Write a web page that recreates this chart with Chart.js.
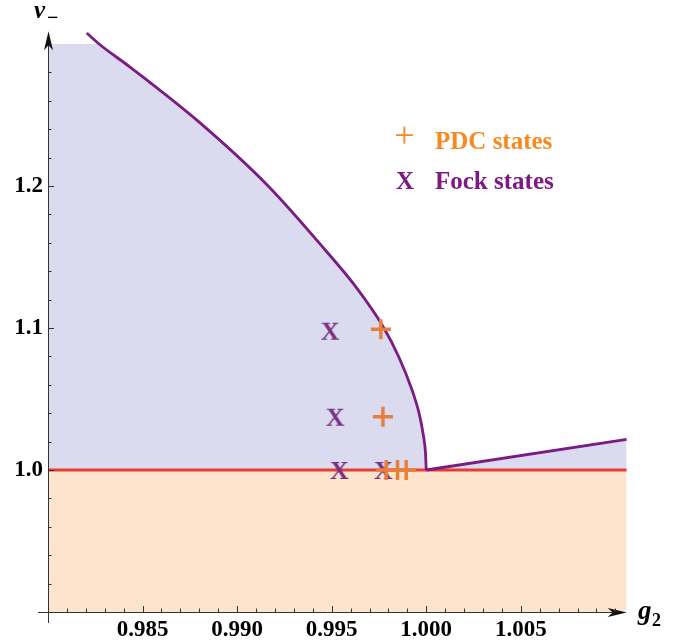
<!DOCTYPE html>
<html lang="en">
<head>
<meta charset="UTF-8" />
<title>nu- versus g2</title>
<script src="https://cdn.jsdelivr.net/npm/chart.js"></script>
<style>
  html, body { margin: 0; padding: 0; background: #fff; }
  #wrap { width: 682px; height: 644px; position: relative; }
</style>
</head>
<body>
<div id="wrap"><canvas id="graph"></canvas></div>
<script>
// plot range
const xMin = 0.98, xMax = 1.0106;
const yMin = 0.9, yMax = 1.309, yFillTop = 1.3;

// upper branch of the boundary, down to the cusp at 1.000
const branchX = [0.98205, 0.98270, 0.98434, 0.98804, 0.99164, 0.99466, 0.99620, 0.99773, 0.99855, 0.99925, 0.99962, 0.99984, 0.99996, 1.0];
const branchY = [1.3077, 1.3, 1.2837, 1.2444, 1.2, 1.1549, 1.1303, 1.1007, 1.0796, 1.0563, 1.0400, 1.0250, 1.0120, 1.0];
// straight piece to the right of the cusp
const rayX = [1.0, 1.0106];
const rayY = [1.0, 1.0216];

// markers
const pdcX = [0.99760, 0.99771, 0.99788, 0.99848, 0.99894];
const pdcY = [1.0991, 1.0375, 1.0, 1.0, 1.0];
const fockX = [0.99492, 0.99519, 0.99541, 0.99774];
const fockY = [1.0981, 1.0375, 1.0, 1.0];

// ticks
const xTickLabels = ["0.985", "0.990", "0.995", "1.000", "1.005"];
const xMinorTicks = [0.981, 0.982, 0.983, 0.984, 0.986, 0.987, 0.988, 0.989, 0.991, 0.992, 0.993, 0.994,
                     0.996, 0.997, 0.998, 0.999, 1.001, 1.002, 1.003, 1.004, 1.006, 1.007, 1.008, 1.009, 1.010];
const yTickLabels = ["1.0", "1.1", "1.2"];
const yMinorTicks = [0.92, 0.94, 0.96, 0.98, 1.02, 1.04, 1.06, 1.08, 1.12, 1.14, 1.16, 1.18,
                     1.22, 1.24, 1.26, 1.28];

const PURPLE = "rgb(123,27,132)";
const ORANGE = "rgb(232,128,60)";
const LAVENDER = "rgb(218,219,238)";
const PEACH = "rgb(253,228,205)";
const SERIF = "'Liberation Serif', 'Times New Roman', serif";

const pts = (xs, ys) => xs.map((x, i) => ({ x, y: ys[i] }));

// lavender region: flat top at 1.3 until the curve comes in, then under the curve
const branchPts = pts(branchX, branchY);
const fillBranch = branchPts.filter(p => p.y <= yFillTop);
// the corner piece overlaps the branch fill a little so no seam shows
const fillTop = [{ x: xMin, y: yFillTop }, fillBranch[0], fillBranch[1]];

// serif "X" used as the Fock marker
function letterX(size, color) {
  const c = document.createElement("canvas");
  c.width = 28; c.height = 28;
  const g = c.getContext("2d");
  g.font = "bold " + size + "px " + SERIF;
  g.fillStyle = color;
  g.textAlign = "center";
  g.textBaseline = "alphabetic";
  g.fillText("X", 14, 14 + size * 0.33);
  return c;
}
const fockMark = letterX(26, "rgb(122,48,132)");

// Mathematica-like frame: crossing axes, arrows, inward ticks, axis names, legend
const framePlugin = {
  id: "frame",
  afterDatasetsDraw(chart) {
    const { ctx, chartArea, scales } = chart;
    const xs = scales.x, ys = scales.y;
    const left = xs.getPixelForValue(xMin), bottom = ys.getPixelForValue(yMin);
    ctx.save();
    ctx.strokeStyle = "#333";
    ctx.fillStyle = "#111";
    ctx.lineWidth = 1;

    ctx.beginPath();
    ctx.moveTo(left - 10, bottom + 0.5);
    ctx.lineTo(chartArea.right - 10, bottom + 0.5);
    ctx.moveTo(left + 0.5, bottom + 11);
    ctx.lineTo(left + 0.5, chartArea.top + 10);
    ctx.stroke();

    // arrow heads
    const arrow = (tx, ty, dx, dy) => {
      const px = -dy, py = dx;
      ctx.beginPath();
      ctx.moveTo(tx, ty);
      ctx.lineTo(tx - dx * 19 + px * 4.5, ty - dy * 19 + py * 4.5);
      ctx.lineTo(tx - dx * 14, ty - dy * 14);
      ctx.lineTo(tx - dx * 19 - px * 4.5, ty - dy * 19 - py * 4.5);
      ctx.closePath();
      ctx.fill();
    };
    arrow(chartArea.right, bottom + 0.5, 1, 0);
    arrow(left + 0.5, chartArea.top, 0, -1);

    // ticks point into the plot
    ctx.beginPath();
    xMinorTicks.forEach(v => {
      const p = Math.round(xs.getPixelForValue(v)) + 0.5;
      ctx.moveTo(p, bottom); ctx.lineTo(p, bottom - 3.5);
    });
    xTickLabels.forEach(t => {
      const p = Math.round(xs.getPixelForValue(parseFloat(t))) + 0.5;
      ctx.moveTo(p, bottom); ctx.lineTo(p, bottom - 6);
    });
    yMinorTicks.forEach(v => {
      const p = Math.round(ys.getPixelForValue(v)) + 0.5;
      ctx.moveTo(left, p); ctx.lineTo(left + 3.5, p);
    });
    yTickLabels.forEach(t => {
      const p = Math.round(ys.getPixelForValue(parseFloat(t))) + 0.5;
      ctx.moveTo(left, p); ctx.lineTo(left + 6, p);
    });
    ctx.stroke();

    // axis names
    ctx.fillStyle = "#000";
    ctx.textAlign = "left";
    ctx.textBaseline = "alphabetic";
    ctx.font = "bold italic 25px " + SERIF;
    ctx.fillText("\u03bd", 34, 18);
    ctx.font = "bold 20px " + SERIF;
    ctx.fillText("\u2212", 47, 24);
    ctx.font = "bold italic 27px " + SERIF;
    ctx.fillText("g", 638, 619);
    ctx.font = "bold 18px " + SERIF;
    ctx.fillText("2", 652, 626);

    // legend
    ctx.font = "36px " + SERIF;
    ctx.textAlign = "center";
    ctx.fillStyle = "rgb(247,137,31)";
    ctx.fillText("+", 404.5, 147);
    ctx.font = "bold 25px " + SERIF;
    ctx.textAlign = "left";
    ctx.fillText("PDC states", 435, 149);
    ctx.fillStyle = "rgb(125,24,133)";
    ctx.textAlign = "center";
    ctx.fillText("X", 405, 189);
    ctx.textAlign = "left";
    ctx.fillText("Fock states", 435, 189);
    ctx.restore();
  }
};

const tickFont = { family: SERIF, weight: "bold", size: 23 };
const areaStyle = { borderWidth: 0, borderColor: "rgba(0,0,0,0)", backgroundColor: LAVENDER, pointRadius: 0, fill: { value: 1 }, order: 4 };

new Chart(document.getElementById("graph"), {
  type: "scatter",
  data: {
    datasets: [
      {
        label: "PDC states",
        data: pts(pdcX, pdcY),
        pointStyle: "cross",
        pointRadius: 10,
        pointBorderWidth: 3.5,
        borderColor: ORANGE,
        backgroundColor: ORANGE,
        order: 0
      },
      {
        label: "Fock states",
        data: pts(fockX, fockY),
        pointStyle: fockMark,
        pointRadius: 13,
        order: 1
      },
      {
        label: "boundary",
        type: "line",
        data: branchPts,
        borderColor: PURPLE,
        borderWidth: 2.8,
        pointRadius: 0,
        cubicInterpolationMode: "monotone",
        fill: false,
        order: 2
      },
      {
        label: "boundary ray",
        type: "line",
        data: pts(rayX, rayY),
        borderColor: PURPLE,
        borderWidth: 2.8,
        pointRadius: 0,
        fill: false,
        order: 2
      },
      {
        label: "nu = 1",
        type: "line",
        data: pts([xMin, xMax], [1, 1]),
        borderColor: "rgb(228,62,50)",
        borderWidth: 3,
        pointRadius: 0,
        fill: false,
        order: 3
      },
      Object.assign({ label: "upper region top", type: "line", data: fillTop }, areaStyle),
      Object.assign({ label: "upper region", type: "line", data: fillBranch, cubicInterpolationMode: "monotone" }, areaStyle),
      Object.assign({ label: "upper region right", type: "line", data: pts(rayX, rayY) }, areaStyle),
      {
        label: "lower region",
        type: "line",
        data: pts([xMin, xMax], [1, 1]),
        borderWidth: 0,
        borderColor: "rgba(0,0,0,0)",
        backgroundColor: PEACH,
        pointRadius: 0,
        fill: { value: yMin },
        order: 5
      }
    ]
  },
  options: {
    responsive: true,
    maintainAspectRatio: false,
    animation: false,
    devicePixelRatio: 1,
    layout: { padding: { left: 0, right: 55.3, top: 31.2, bottom: 0 } },
    plugins: { legend: { display: false }, tooltip: { enabled: false } },
    scales: {
      x: {
        type: "linear",
        min: xMin,
        max: xMax,
        afterBuildTicks: s => { s.ticks = xTickLabels.map(t => ({ value: parseFloat(t) })); },
        afterFit: s => { s.height = 32; },
        ticks: {
          callback: (v, i) => xTickLabels[i],
          font: tickFont,
          color: "#000",
          padding: 4,
          maxRotation: 0,
          autoSkip: false
        },
        grid: { display: false, drawTicks: false },
        border: { display: false }
      },
      y: {
        type: "linear",
        min: yMin,
        max: yMax,
        afterBuildTicks: s => { s.ticks = yTickLabels.map(t => ({ value: parseFloat(t) })); },
        afterFit: s => { s.width = 48; },
        ticks: {
          callback: (v, i) => yTickLabels[i],
          font: tickFont,
          color: "#000",
          padding: 5,
          autoSkip: false
        },
        grid: { display: false, drawTicks: false },
        border: { display: false }
      }
    }
  },
  plugins: [framePlugin]
});
</script>
</body>
</html>
